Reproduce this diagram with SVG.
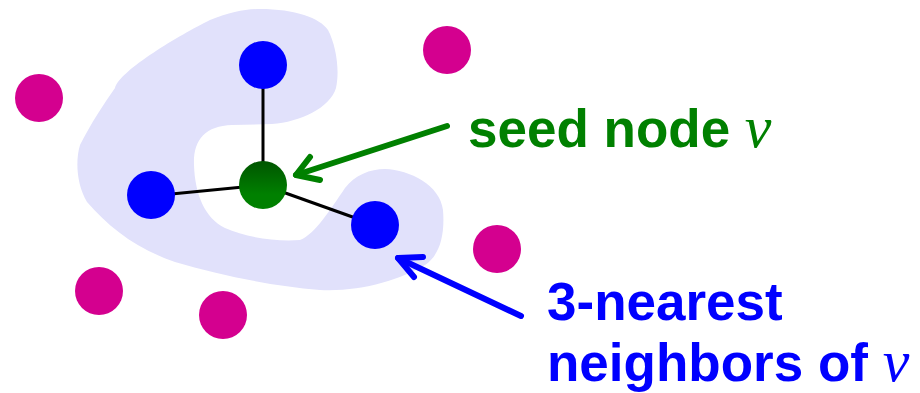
<svg xmlns="http://www.w3.org/2000/svg" width="920" height="393" viewBox="0 0 920 393">
<defs>
<linearGradient id="gg" x1="0" y1="0" x2="0" y2="1">
<stop offset="0" stop-color="#005500"/>
<stop offset="0.7" stop-color="#008000"/>
</linearGradient>
<style>
.mag{fill:#d4008f}
.blue{fill:#0000ff}
.edge{stroke:#000;stroke-width:3;fill:none}
.arr{fill:none;stroke-width:6;stroke-linecap:round;stroke-linejoin:round}
.lbl{font-family:"Liberation Sans",Arial,sans-serif;font-weight:bold;font-size:53px}
.var{font-family:"Liberation Serif","Times New Roman",serif;font-style:italic;font-weight:normal;font-size:60px}
</style>
</defs>
<rect width="920" height="393" fill="#fff"/>
<path id="region" fill="#e1e1fb" d="M 260,9 C 295,9 320,18 328,30 C 336,45 340,70 336,88 C 330,108 300,122 272,124 L 232,125 C 205,126 193,140 194,165 C 195,195 205,218 225,228 C 245,237 275,242 300,240 C 315,234 330,210 345,188 C 355,175 370,169 385,169 C 410,170 440,185 443,210 C 445,235 440,255 425,265 C 400,280 360,292 320,290 C 270,286 220,275 175,262 C 135,248 110,228 87,202 C 77,185 75,162 80,145 C 90,125 105,102 115,88 C 120,70 180,35 210,20 C 230,12 245,9 260,9 Z"/>
<g id="connectors">
<line class="edge" x1="263" y1="65" x2="263" y2="185"/>
<line class="edge" x1="151" y1="196" x2="263" y2="185"/>
<line class="edge" x1="263" y1="185" x2="375" y2="225"/>
<polyline class="arr" stroke="#008000" points="447,126 296,175"/>
<polyline class="arr" stroke="#008000" points="310,157 296,175 320,180"/>
<polyline class="arr" stroke="#0000ff" points="521,316 398,258"/>
<polyline class="arr" stroke="#0000ff" points="423,257 398,258 414,277"/>
</g>
<g id="n-top"><circle class="blue" cx="263" cy="65" r="24"/></g>
<g id="n-left"><circle class="blue" cx="151" cy="195" r="24"/></g>
<g id="n-right"><circle class="blue" cx="375" cy="225" r="24"/></g>
<g id="seed"><circle fill="url(#gg)" cx="263" cy="185" r="24"/></g>
<g id="m1"><circle class="mag" cx="39" cy="98" r="24"/></g>
<g id="m2"><circle class="mag" cx="447" cy="50" r="24"/></g>
<g id="m3"><circle class="mag" cx="99" cy="291" r="24"/></g>
<g id="m4"><circle class="mag" cx="223" cy="315" r="24"/></g>
<g id="m5"><circle class="mag" cx="497" cy="249" r="24"/></g>
<g id="label-seed">
<text class="lbl" x="468" y="147" fill="#008000">seed node <tspan class="var">v</tspan></text>
</g>
<g id="label-neighbors" fill="#0000ff">
<text class="lbl" x="547" y="320">3-nearest</text>
<text class="lbl" x="547" y="381">neighbors of <tspan class="var">v</tspan></text>
</g>
</svg>
